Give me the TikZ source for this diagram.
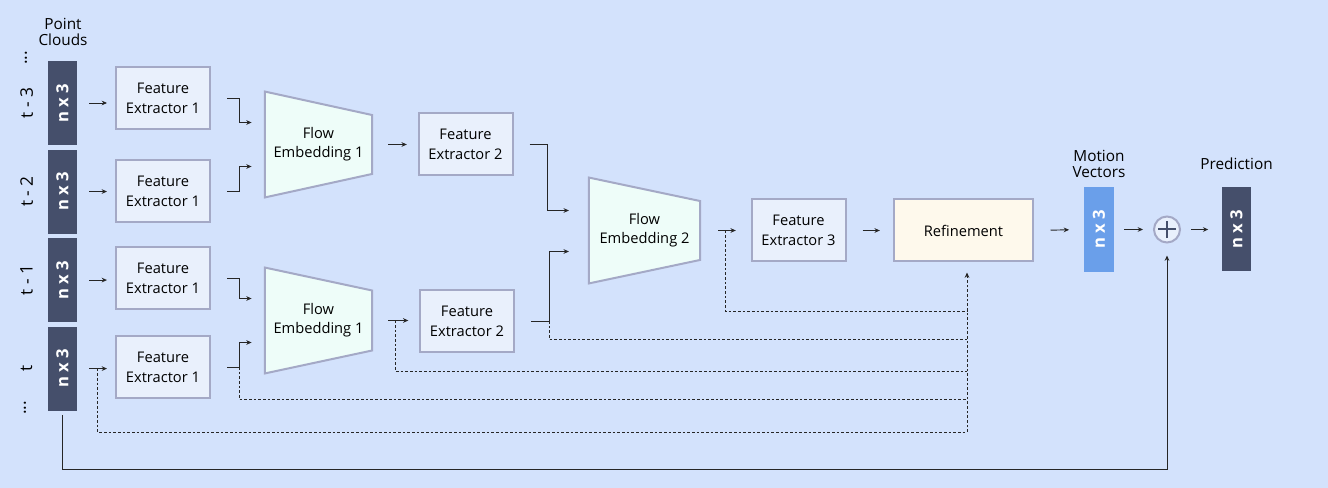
\documentclass[tikz,border=0pt]{standalone}
\usepackage{graphicx}
\usepackage{fontspec}
\setmainfont{Open Sans}
\usetikzlibrary{arrows.meta,positioning,calc}
\definecolor{bgblue}{HTML}{D3E2FC}
\definecolor{boxfill}{HTML}{E9F0FC}
\definecolor{boxline}{HTML}{A4A9C6}
\definecolor{cloudfill}{HTML}{454F6B}
\definecolor{motionfill}{HTML}{6A9FEA}
\definecolor{embfill}{HTML}{EEFDF9}
\definecolor{refinefill}{HTML}{FEF9EC}
\pgfdeclarelayer{back}
\pgfsetlayers{back,main}

\begin{document}
\begin{tikzpicture}[x=0.75pt, y=0.75pt,
  cloud/.style={fill=cloudfill, minimum width=22pt, minimum height=63pt, inner sep=0pt, text=white, font=\fontsize{12.5}{14}\selectfont\bfseries},
  feat/.style={draw=boxline, line width=1.5pt, fill=boxfill, minimum width=70.5pt, minimum height=46.5pt, align=center, font=\fontsize{11}{15}\selectfont},
  emb/.style={minimum width=80pt, minimum height=79pt, inner sep=0pt, align=center, font=\fontsize{11}{14.5}\selectfont},
  embshape/.style={draw=boxline, line width=1.5pt, fill=embfill, line join=miter},
  lab/.style={align=center, font=\fontsize{11.5}{12}\selectfont},
  tlab/.style={rotate=90, font=\fontsize{13}{15}\selectfont},
  arr/.style={-{Stealth[length=4pt,width=3.5pt]}, line width=0.7pt, black!85},
  dashline/.style={line width=0.6pt, black!85, dash pattern=on 2pt off 1.5pt}
]
  % input point clouds
  \node[cloud] (pc1) at (62.5,385) {\rotatebox{90}{n x 3}};
  \node[cloud, below=3pt of pc1] (pc2) {\rotatebox{90}{n x 3}};
  \node[cloud, below=3pt of pc2] (pc3) {\rotatebox{90}{n x 3}};
  \node[cloud, below=3pt of pc3] (pc4) {\rotatebox{90}{n x 3}};
  \node[lab] (pclab) at (63,456) {Point\\Clouds};

  \node[tlab] (t3) at ($(pc1.west)+(-21,0)$) {t - 3};
  \node[tlab] (t2) at ($(pc2.west)+(-21,0)$) {t - 2};
  \node[tlab] (t1) at ($(pc3.west)+(-21,0)$) {t - 1};
  \node[tlab] (t0) at ($(pc4.west)+(-21,0)$) {t};
  \node[tlab] (dtop) at (26,430) {...};
  \node[tlab] (dbot) at (25,80) {...};

  % first extractors
  \node[feat] (fe1a) at (163,390) {Feature\\Extractor 1};
  \node[feat] (fe1b) at (163,297) {Feature\\Extractor 1};
  \node[feat] (fe1c) at (163,210) {Feature\\Extractor 1};
  \node[feat] (fe1d) at (163,121) {Feature\\Extractor 1};

  % flow embeddings
  \node[emb] (emb1a) at (318.5,343.5) {Flow\\Embedding 1};
  \node[emb] (emb1b) at (318.5,167.5) {Flow\\Embedding 1};
  \node[emb, minimum width=83pt] (emb2) at (644.5,257.5) {Flow\\Embedding 2};

  \node[feat] (fe2a) at (465.5,344) {Feature\\Extractor 2};
  \node[feat] (fe2b) at (467,167) {Feature\\Extractor 2};
  \node[feat] (fe3) at (798.5,257.5) {Feature\\Extractor 3};
  \node[feat, fill=refinefill, minimum width=104pt] (ref) at (963.5,257.5) {Refinement};

  % outputs
  \node[cloud, fill=motionfill, minimum width=22.5pt, minimum height=64pt] (mv) at (1099,258.5) {\rotatebox{90}{n x 3}};
  \node[lab, above=3pt of mv] (mvlab) {Motion\\Vectors};
  \node[draw=boxline, line width=1.5pt, fill=boxfill, circle, minimum size=19.5pt, inner sep=0pt] (plus) at (1167,258.5) {};
  \draw[line width=1.5pt, cloudfill] ([xshift=-6.4pt]plus.center) -- ([xshift=6.4pt]plus.center);
  \draw[line width=1.5pt, cloudfill] ([yshift=-6.4pt]plus.center) -- ([yshift=6.4pt]plus.center);
  \node[cloud] (pred) at (1236.5,258.5) {\rotatebox{90}{n x 3}};
  \node[lab] (predlab) at (pred |- mvlab) {Prediction};

  \begin{pgfonlayer}{back}
    \fill[bgblue] (0,0) rectangle (1328,488);
    \draw[embshape] (emb1a.north west) -- ([yshift=-17.6pt]emb1a.north east) -- ([yshift=17.6pt]emb1a.south east) -- (emb1a.south west) -- cycle;
    \draw[embshape] (emb1b.north west) -- ([yshift=-17.2pt]emb1b.north east) -- ([yshift=17.2pt]emb1b.south east) -- (emb1b.south west) -- cycle;
    \draw[embshape] (emb2.north west) -- ([yshift=-17.6pt]emb2.north east) -- ([yshift=17.6pt]emb2.south east) -- (emb2.south west) -- cycle;
  \end{pgfonlayer}

  % clouds into extractors
  \draw[arr, shorten <=9pt, shorten >=6pt] (pc1.east) -- (pc1.east -| fe1a.west);
  \draw[arr, shorten <=9pt, shorten >=6pt] (pc2.east) -- (pc2.east -| fe1b.west);
  \draw[arr, shorten <=9pt, shorten >=6pt] (pc3.east) -- (pc3.east -| fe1c.west);
  \draw[arr, shorten <=9pt, shorten >=6pt] (pc4.east) -- (pc4.east -| fe1d.west);

  % extractors into embeddings
  \draw[arr, shorten <=12pt, shorten >=10pt] (fe1a.east) -- ++(28,0) |- ($(emb1a.west)+(0,22)$);
  \draw[arr, shorten <=12pt, shorten >=10pt] (fe1b.east) -- ++(28,0) |- ($(emb1a.west)+(0,-22)$);
  \draw[arr, shorten <=12pt, shorten >=10pt] (fe1c.east) -- ++(28,0) |- ($(emb1b.west)+(0,22)$);
  \draw[arr, shorten <=12pt, shorten >=10pt] (fe1d.east) -- ++(28,0) |- ($(emb1b.west)+(0,-22)$);

  \draw[arr, shorten <=12pt, shorten >=8pt] (emb1a.east) -- (emb1a.east -| fe2a.west);
  \draw[arr, shorten <=12pt, shorten >=8pt] (emb1b.east) -- (emb1b.east -| fe2b.west);

  \draw[arr, shorten <=12pt, shorten >=15pt] (fe2a.east) -- ++(34,0) |- ($(emb2.west)+(0,20)$);
  \draw[arr, shorten <=12pt, shorten >=15pt] (fe2b.east) -- ++(34,0) |- ($(emb2.west)+(0,-21)$);

  \draw[arr, shorten <=13.5pt, shorten >=11pt] (emb2.east) -- (fe3.west);
  \draw[arr, shorten <=12pt, shorten >=10pt] (fe3.east) -- (ref.west);
  \draw[arr, shorten <=12.5pt, shorten >=11pt] (ref.east) -- (mv.west);
  \draw[arr, shorten <=7.5pt, shorten >=7.5pt] (mv.east) -- (plus.west);
  \draw[arr, shorten <=7.5pt, shorten >=10pt] (plus.east) -- (pred.west);

  % residual from current frame
  \draw[arr, shorten <=3pt, shorten >=9pt] (pc4.south) -- ++(0,-59) -| (plus.south);

  % skip connections into refinement
  \coordinate (lane) at ($(ref.south)+(3.5,0)$);
  \coordinate (s0) at ($(pc4.east)+(20,0)$);
  \coordinate (s1) at ($(fe1d.east)+(28,0)$);
  \coordinate (s2) at ($(emb1b.east)+(23,0)$);
  \coordinate (s3) at ($(fe2b.east)+(34,0)$);
  \coordinate (s4) at ($(emb2.east)+(25,0)$);
  \draw[dashline] (s0) |- (lane |- 0,56);
  \draw[dashline] (s1) |- (lane |- 0,89);
  \draw[dashline] (s2) |- (lane |- 0,117);
  \draw[dashline] (s3) |- (lane |- 0,149);
  \draw[dashline] (s4) |- (lane |- 0,177);
  \draw[dashline, -{Stealth[length=4pt,width=3.5pt]}, shorten >=7.5pt] (lane |- 0,56) -- (lane);
\end{tikzpicture}
\end{document}
